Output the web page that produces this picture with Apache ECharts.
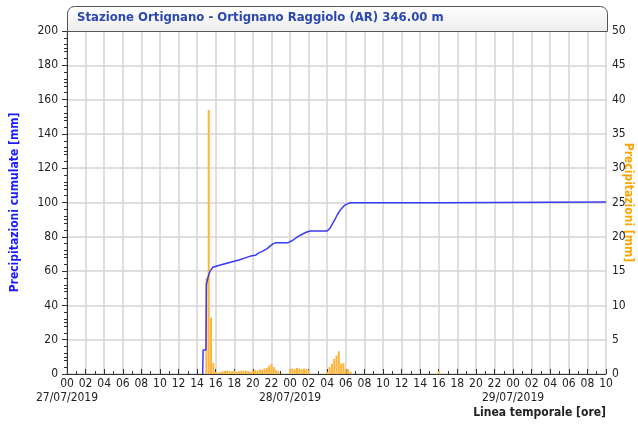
<!DOCTYPE html>
<html>
<head>
<meta charset="utf-8">
<script src="https://cdn.jsdelivr.net/npm/echarts@6/dist/echarts.min.js"></script>
<style>
html,body{margin:0;padding:0;background:#fff;}
#c{width:638px;height:427px;}
</style>
</head>
<body>
<div id="c"></div>
<script>
// ---- data ----
var titleText = 'Stazione Ortignano - Ortignano Raggiolo (AR) 346.00 m';
var dayLabels = ['27/07/2019', '28/07/2019', '29/07/2019'];
var leftName = 'Precipitazioni cumulate [mm]';
var rightName = 'Precipitazioni [mm]';
var xName = 'Linea temporale [ore]';

// hours since 27/07/2019 00:00, rain per 15 min [mm]
var rainHours = [15.0, 15.25, 15.5, 15.75,
  16.0, 16.25, 16.5, 16.75, 17.0, 17.25, 17.5, 17.75, 18.0, 18.25, 18.5, 18.75, 19.0, 19.25, 19.5, 19.75,
  20.0, 20.25, 20.5, 20.75, 21.0, 21.25, 21.5, 21.75, 22.0, 22.25, 22.5, 22.75,
  24.0, 24.25, 24.5, 24.75, 25.0, 25.25, 25.5, 25.75, 26.0,
  28.0, 28.25, 28.5, 28.75, 29.0, 29.25, 29.5, 29.75, 30.0, 30.25, 30.5,
  40.0];
var rainMm = [14, 38.5, 8.2, 1.6,
  0.3, 0.2, 0.3, 0.4, 0.4, 0.5, 0.4, 0.4, 0.5, 0.3, 0.4, 0.5, 0.4, 0.5, 0.4, 0.3,
  0.5, 0.6, 0.5, 0.7, 0.6, 0.8, 0.9, 1.2, 1.5, 1.0, 0.6, 0.4,
  0.7, 0.8, 0.7, 0.9, 0.8, 0.7, 0.8, 0.7, 0.6,
  0.3, 1.0, 1.5, 2.2, 2.7, 3.3, 1.5, 1.6, 0.7, 0.7, 0.3,
  0.4];

// cumulative rain [mm]
var cumHours = [14.6, 14.65, 14.95, 15.0, 15.2, 15.4, 15.7, 16.5, 17.5, 18.5, 19.5, 19.9, 20.3, 20.6, 21.0, 21.5,
  21.85, 22.2, 22.5, 23.8, 24.3, 24.8, 25.3, 25.8, 26.2, 28.0, 28.3, 28.8, 29.1, 29.4, 29.9, 30.3, 30.6,
  40.0, 40.1, 58];
var cumMm = [0, 14, 14, 52, 57, 60, 62.3, 63.5, 65, 66.5, 68.3, 69, 69.3, 70.5, 71.5, 73,
  74.6, 76, 76.6, 76.6, 78, 80, 81.5, 82.8, 83.4, 83.4, 85, 89.8, 93, 95.6, 98.5, 99.5, 99.8,
  99.8, 100.3, 100.3];

var leftAxis = {min: 0, max: 200, step: 20};
var rightAxis = {min: 0, max: 50, step: 5};
var xAxisRange = {min: 0, max: 58, step: 2, dayStep: 24};

// ---- chart ----
var FONT = "'DejaVu Sans Condensed', 'Liberation Sans', sans-serif";
var chart = echarts.init(document.getElementById('c'), null, {renderer: 'canvas'});

var barData = rainHours.map(function (h, i) { return [h, rainMm[i]]; });
var lineData = cumHours.map(function (h, i) { return [h, cumMm[i]]; });

function pad(n) { return (n < 10 ? '0' : '') + n; }

var option = {
  animation: false,
  backgroundColor: '#ffffff',
  grid: {left: 67, right: 32, top: 31, bottom: 53, containLabel: false, outerBoundsMode: 'none'},
  xAxis: [{
    type: 'value',
    min: xAxisRange.min, max: xAxisRange.max, interval: xAxisRange.step,
    axisLine: {show: true, onZero: false, lineStyle: {color: '#333', width: 1}},
    axisTick: {show: true, inside: true, length: 5, lineStyle: {color: '#333'}},
    minorTick: {show: true, splitNumber: 2, length: 3, lineStyle: {color: '#333'}},
    splitLine: {show: true, lineStyle: {color: '#d4d4d4', width: 1.5}},
    axisLabel: {
      color: '#222', fontFamily: FONT, fontSize: 12, margin: 4,
      showMaxLabel: true, showMinLabel: true, hideOverlap: false,
      formatter: function (v) { return pad(Math.round(v) % 24); }
    }
  }, {
    type: 'value', position: 'bottom',
    min: xAxisRange.min, max: xAxisRange.max, interval: xAxisRange.dayStep,
    axisLine: {show: false, onZero: false},
    axisTick: {show: false},
    splitLine: {show: false},
    axisLabel: {
      color: '#222', fontFamily: FONT, fontSize: 12, margin: 18,
      showMaxLabel: false, hideOverlap: false,
      formatter: function (v) { var d = Math.round(v / 24); return dayLabels[d] || ''; }
    }
  }],
  yAxis: [{
    type: 'value',
    min: leftAxis.min, max: leftAxis.max, interval: leftAxis.step,
    name: leftName, nameLocation: 'middle', nameRotate: 90, nameGap: 46, nameMoveOverlap: false,
    nameTextStyle: {color: '#1a1aff', fontWeight: 'bold', fontSize: 12, fontFamily: FONT},
    axisLine: {show: true, lineStyle: {color: '#333', width: 1}},
    axisTick: {show: true, length: 5, lineStyle: {color: '#333'}},
    minorTick: {show: true, splitNumber: 2, length: 3, lineStyle: {color: '#333'}},
    splitLine: {show: true, lineStyle: {color: '#d4d4d4', width: 1.5}},
    axisLabel: {color: '#222', fontFamily: FONT, fontSize: 12, margin: 9}
  }, {
    type: 'value', position: 'right',
    min: rightAxis.min, max: rightAxis.max, interval: rightAxis.step,
    name: rightName, nameLocation: 'middle', nameRotate: -90, nameGap: 16, nameMoveOverlap: false,
    nameTextStyle: {color: '#ffa500', fontWeight: 'bold', fontSize: 12, fontFamily: FONT},
    axisLine: {show: true, lineStyle: {color: '#333', width: 1}},
    axisTick: {show: true, inside: true, length: 5, lineStyle: {color: '#333'}},
    minorTick: {show: true, splitNumber: 5, length: 3, lineStyle: {color: '#333'}},
    splitLine: {show: false},
    axisLabel: {color: '#222', fontFamily: FONT, fontSize: 12, margin: 6}
  }],
  series: [{
    type: 'bar', xAxisIndex: 0, yAxisIndex: 1, data: barData, barWidth: 2,
    itemStyle: {color: '#fdb43a'}, z: 2
  }, {
    type: 'line', xAxisIndex: 0, yAxisIndex: 0, data: lineData, showSymbol: false,
    lineStyle: {color: '#3a3af5', width: 1.5}, z: 3
  }],
  graphic: [{
    type: 'rect', left: 67, top: 6, z: 100,
    shape: {width: 540, height: 25, r: [7, 7, 0, 0]},
    style: {
      fill: new echarts.graphic.LinearGradient(0, 0, 0, 1, [
        {offset: 0, color: '#ffffff'}, {offset: 1, color: '#ececec'}]),
      stroke: '#555', lineWidth: 1
    }
  }, {
    type: 'text', left: 77, top: 11, z: 101,
    style: {text: titleText, fill: '#2a48b0', font: 'bold 13px ' + FONT}
  }, {
    type: 'text', right: 32, top: 407, z: 101,
    style: {text: xName, fill: '#222', font: 'bold 12px ' + FONT}
  }]
};
chart.setOption(option);
</script>
</body>
</html>
